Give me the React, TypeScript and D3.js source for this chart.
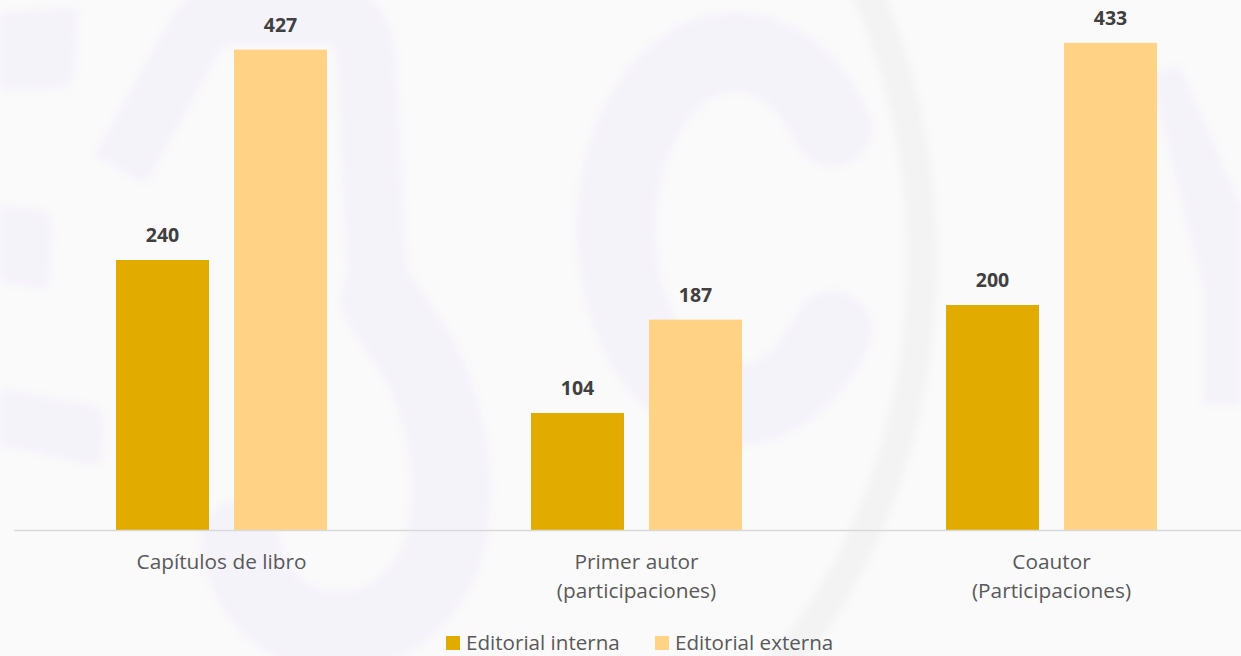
import React from "react";
import * as d3 from "d3";

const categories = ["Capítulos de libro", "Primer autor\n(participaciones)", "Coautor\n(Participaciones)"];
const seriesNames = ["Editorial interna", "Editorial externa"];
const editorialInterna = [240, 104, 200];
const editorialExterna = [427, 187, 433];
const seriesColors = ["#E1AB00", "#FFD286"];

const W = 1241;
const H = 656;
const BASE = 530;
const FONT = "'Open Sans', 'DejaVu Sans', sans-serif";
const WM = "#f5f3fa";
const GR = "#f3f3f4";

function ellipsePath(cx: number, cy: number, rx: number, ry: number, a0: number, a1: number) {
  const pts = d3.range(a0, a1 + 0.5, 2).map((deg) => {
    const t = (deg * Math.PI) / 180;
    return [cx + rx * Math.cos(t), cy + ry * Math.sin(t)] as [number, number];
  });
  return d3.line()(pts) || "";
}

export default function App() {
  const x0 = d3.scaleBand<string>().domain(categories).range([14, 14 + 415 * 3]).paddingInner(0).paddingOuter(0);
  const x1 = d3
    .scaleBand<string>()
    .domain(seriesNames)
    .range([0, x0.bandwidth()])
    .paddingInner(0.2119)
    .paddingOuter(0.8644);
  const y = d3.scaleLinear().domain([0, 480]).range([BASE, BASE - 540]);

  const data = categories.map((c, i) => ({
    cat: c,
    values: [editorialInterna[i], editorialExterna[i]],
  }));

  return (
    <div style={{ position: "absolute", left: 0, top: 0 }}>
      <svg width={W} height={H} style={{ display: "block" }}>
        <defs>
          <filter id="soft" x="-10%" y="-10%" width="120%" height="120%">
            <feGaussianBlur stdDeviation="4" />
          </filter>
        </defs>
        <rect x={0} y={0} width={W} height={H} fill="#fafafa" />
        {/* watermark */}
        <g filter="url(#soft)">
          <path d={ellipsePath(470, 260, 452, 560, -90, 125)} fill="none" stroke={GR} strokeWidth={30} />
          <path d="M0,12 L78,7 L75,72 Q72,88 55,89 L0,91 Z" fill={WM} />
          <path d="M0,205 L44,210 Q52,212 52,226 L50,280 Q48,290 38,288 L0,282 Z" fill={WM} />
          <path d="M0,388 L92,405 Q104,409 104,424 L103,455 Q100,467 88,465 L0,445 Z" fill={WM} />
          <path d="M120,170 L195,35 Q208,14 240,14 L330,14 Q364,16 366,60 L380,330" fill="none" stroke={WM} strokeWidth={60} strokeLinejoin="round" />
          <path d="M380,300 L420,360 Q470,470 440,560 Q400,640 320,630 Q250,615 240,540" fill="none" stroke={WM} strokeWidth={80} strokeLinejoin="round" strokeLinecap="round" />
          <path d={ellipsePath(735, 229, 119, 177, 35, 325)} fill="none" stroke={WM} strokeWidth={80} strokeLinecap="round" />
          <path d="M1150,75 L1180,65 L1241,205 L1241,405 L1203,405 L1203,290 Z" fill={WM} />
        </g>

        {/* bars */}
        {data.map((d) => (
          <g key={d.cat} transform={`translate(${x0(d.cat)},0)`}>
            {d.values.map((v, j) => (
              <g key={j}>
                <rect
                  x={x1(seriesNames[j])}
                  y={y(v)}
                  width={x1.bandwidth()}
                  height={BASE - y(v)}
                  fill={seriesColors[j]}
                />
                <text
                  x={(x1(seriesNames[j]) as number) + x1.bandwidth() / 2}
                  y={y(v) - 18}
                  textAnchor="middle"
                  fontFamily={FONT}
                  fontWeight={700}
                  fontSize={19.5}
                  fill="#404040"
                >
                  {v}
                </text>
              </g>
            ))}
          </g>
        ))}

        {/* axis line */}
        <line x1={14} x2={W} y1={BASE + 0.5} y2={BASE + 0.5} stroke="#d9d9d9" strokeWidth={1.5} />

        {/* category labels */}
        {categories.map((c) => {
          const cx = (x0(c) as number) + x0.bandwidth() / 2;
          return (
            <text key={c} x={cx} y={569} textAnchor="middle" fontFamily={FONT} fontSize={20.8} fill="#595959">
              {c.split("\n").map((line, k) => (
                <tspan key={k} x={cx} dy={k === 0 ? 0 : 29}>
                  {line}
                </tspan>
              ))}
            </text>
          );
        })}

        {/* legend */}
        {seriesNames.map((s, j) => {
          const lx = [446, 655][j];
          return (
            <g key={s} transform={`translate(${lx},636)`}>
              <rect x={0} y={0} width={14} height={14} fill={seriesColors[j]} />
              <text x={20} y={14} fontFamily={FONT} fontSize={20.6} fill="#595959">
                {s}
              </text>
            </g>
          );
        })}
      </svg>
    </div>
  );
}
